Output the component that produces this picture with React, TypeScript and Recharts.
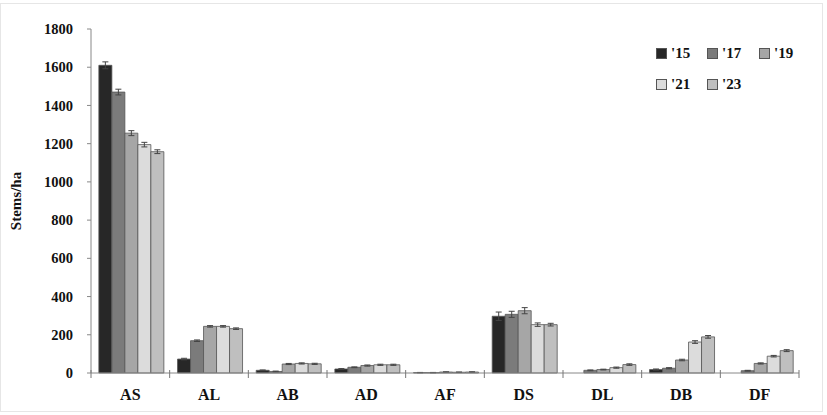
import React from 'react'
import { BarChart, Bar, XAxis, YAxis, Legend, ErrorBar } from 'recharts'

const categories = ['AS', 'AL', 'AB', 'AD', 'AF', 'DS', 'DL', 'DB', 'DF']
const years = ["'15", "'17", "'19", "'21", "'23"]

const v15 = [1610, 73, 14, 21, 2, 297, 0, 18, 0]
const v17 = [1470, 169, 8, 30, 2, 307, 14, 25, 12]
const v19 = [1255, 244, 47, 39, 5, 326, 18, 68, 50]
const v21 = [1195, 244, 50, 43, 4, 253, 28, 162, 88]
const v23 = [1158, 232, 48, 43, 5, 253, 44, 189, 117]

const e15 = [18, 4, 2, 2, 1, 22, 0, 3, 0]
const e17 = [15, 4, 2, 2, 1, 16, 2, 3, 2]
const e19 = [13, 4, 3, 3, 1, 16, 2, 4, 3]
const e21 = [12, 4, 3, 3, 1, 9, 3, 7, 4]
const e23 = [10, 4, 3, 3, 1, 7, 4, 7, 5]

const yTicks = [0, 200, 400, 600, 800, 1000, 1200, 1400, 1600, 1800]

const colors = ['#272727', '#7b7b7b', '#a6a6a6', '#dcdcdc', '#bfbfbf']
const seriesKeys = ['y15', 'y17', 'y19', 'y21', 'y23']

const data = categories.map((c, i) => ({
  name: c,
  y15: v15[i], y17: v17[i], y19: v19[i], y21: v21[i], y23: v23[i],
  e15: e15[i], e17: e17[i], e19: e19[i], e21: e21[i], e23: e23[i],
}))

const W = 827
const H = 415
const M = { top: 29, right: 28, bottom: 12, left: 0 }
const Y_W = 91
const BAND = (W - M.right - Y_W) / categories.length

const FONT = '"Liberation Serif", "DejaVu Serif", serif'

const XTick = (props: any) => {
  const { x, y, payload, index } = props
  const left = x - BAND / 2
  return (
    <g>
      <line x1={left} x2={left} y1={y - 3} y2={y + 5} stroke="#777" />
      {index === categories.length - 1 && (
        <line x1={left + BAND} x2={left + BAND} y1={y - 3} y2={y + 5} stroke="#777" />
      )}
      <text x={x} y={y + 21} textAnchor="middle" dominantBaseline="central"
        style={{ fontFamily: FONT, fontSize: 16, fontWeight: 'bold', fill: '#111' }}>
        {payload.value}
      </text>
    </g>
  )
}

const renderLegend = () => {
  const pos = [[656, 48], [707, 48], [759, 48], [656, 79], [707, 79]]
  return (
    <div style={{ position: 'relative', width: W, height: 0 }}>
      {years.map((yr, i) => (
        <div key={yr} style={{ position: 'absolute', left: pos[i][0], top: pos[i][1] - 3, display: 'flex', alignItems: 'center' }}>
          <span style={{ width: 9, height: 9, background: colors[i], border: '1px solid #555', display: 'inline-block' }} />
          <span style={{ marginLeft: 4, fontFamily: FONT, fontSize: 15, fontWeight: 'bold', color: '#111' }}>{yr}</span>
        </div>
      ))}
    </div>
  )
}

export default function App() {
  return (
    <div style={{ position: 'absolute', left: 0, top: 0, width: W, height: H, background: '#fff' }}>
      <div style={{ position: 'absolute', left: 0, top: 3, width: W - 4, height: H - 6, border: '1px solid #e6e6e6', boxSizing: 'border-box' }} />
      <BarChart width={W} height={H} data={data} margin={M} barCategoryGap="10%" barGap={0}>
        <XAxis dataKey="name" height={30} tick={<XTick />} tickLine={false} tickSize={0} tickMargin={0}
          axisLine={{ stroke: '#888' }} interval={0} />
        <YAxis width={Y_W} domain={[0, 1800]} ticks={yTicks} interval={0} tickSize={4} tickMargin={14}
          axisLine={{ stroke: '#888' }} tickLine={{ stroke: '#888' }}
          tick={{ fontFamily: FONT, fontSize: 14.5, fontWeight: 'bold', fill: '#111' }}
          label={{ value: 'Stems/ha', angle: -90, position: 'insideLeft', offset: 16,
            style: { fontFamily: FONT, fontSize: 15, fontWeight: 'bold', fill: '#111', textAnchor: 'middle' } }} />
        <Legend content={renderLegend} verticalAlign="top" wrapperStyle={{ top: 0, left: 0 }} />
        {seriesKeys.map((k, i) => (
          <Bar key={k} dataKey={k} name={years[i]} fill={colors[i]} stroke="#555" strokeWidth={0.8} isAnimationActive={false}>
            <ErrorBar dataKey={'e' + k.slice(1)} width={3} stroke="#444" strokeWidth={1} direction="y" />
          </Bar>
        ))}
      </BarChart>
    </div>
  )
}
